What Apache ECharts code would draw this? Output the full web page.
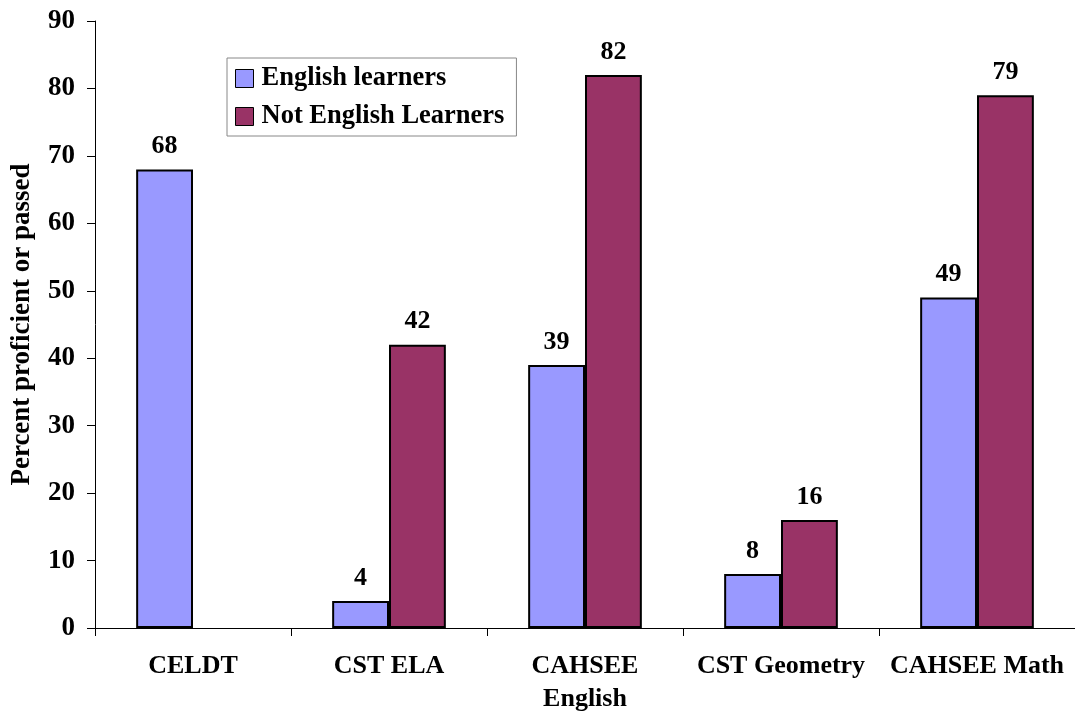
<!DOCTYPE html>
<html>
<head>
<meta charset="utf-8">
<script src="https://cdn.jsdelivr.net/npm/echarts@6/dist/echarts.min.js"></script>
<style>
  html, body { margin: 0; padding: 0; background: #fff; }
  #chart { width: 1075px; height: 711px; }
</style>
</head>
<body>
<div id="chart"></div>
<script>
const categories = ["CELDT", "CST ELA", "CAHSEE\nEnglish", "CST Geometry", "CAHSEE Math"];
const englishLearners = [68, 4, 39, 8, 49];
const notEnglishLearners = [null, 42, 82, 16, 79];
const seriesNames = ["English learners", "Not English Learners"];

const font = '"Liberation Serif", "Times New Roman", serif';

const chart = echarts.init(document.getElementById("chart"));
const labelStyle = {
  show: true,
  position: "top",
  distance: 10,
  fontFamily: font,
  fontWeight: "bold",
  fontSize: 26,
  color: "#000",
};
const option = {
  backgroundColor: "#fff",
  animation: false,
  grid: {
    left: 95,
    right: 0,
    top: 21,
    bottom: 83,
    outerBoundsMode: "none",
    containLabel: false,
  },
  legend: {
    orient: "vertical",
    left: 227,
    top: 58,
    padding: [7, 12, 6, 8],
    itemWidth: 18,
    itemHeight: 18,
    itemGap: 11,
    borderColor: "#888",
    borderWidth: 1,
    icon: "rect",
    data: seriesNames,
    itemStyle: { borderColor: "#000", borderWidth: 1 },
    textStyle: {
      fontFamily: font,
      fontWeight: "bold",
      fontSize: 26.5,
      color: "#000",
      padding: [0, 0, 0, 3],
    },
  },
  xAxis: {
    type: "category",
    data: categories,
    axisLine: { lineStyle: { color: "#000", width: 1 } },
    axisTick: { show: true, interval: 0, length: 8, lineStyle: { color: "#000" } },
    axisLabel: {
      interval: 0,
      margin: 22,
      fontFamily: font,
      fontWeight: "bold",
      fontSize: 26,
      lineHeight: 33,
      color: "#000",
    },
  },
  yAxis: {
    type: "value",
    min: 0,
    max: 90,
    interval: 10,
    name: "Percent proficient or passed",
    nameLocation: "middle",
    nameRotate: 90,
    nameGap: 59,
    nameTextStyle: {
      fontFamily: font,
      fontWeight: "bold",
      fontSize: 27,
      color: "#000",
    },
    splitLine: { show: false },
    axisLine: { show: true, lineStyle: { color: "#000", width: 1 } },
    axisTick: { show: true, length: 8, lineStyle: { color: "#000" } },
    axisLabel: {
      margin: 20,
      fontFamily: font,
      fontWeight: "bold",
      fontSize: 27,
      color: "#000",
    },
  },
  series: [
    {
      name: seriesNames[0],
      type: "bar",
      data: englishLearners,
      barGap: "0%",
      barCategoryGap: "42%",
      itemStyle: { color: "#9999FF", borderColor: "#000", borderWidth: 2 },
      label: labelStyle,
    },
    {
      name: seriesNames[1],
      type: "bar",
      data: notEnglishLearners,
      itemStyle: { color: "#993366", borderColor: "#000", borderWidth: 2 },
      label: labelStyle,
    },
  ],
};
chart.setOption(option);
</script>
</body>
</html>
